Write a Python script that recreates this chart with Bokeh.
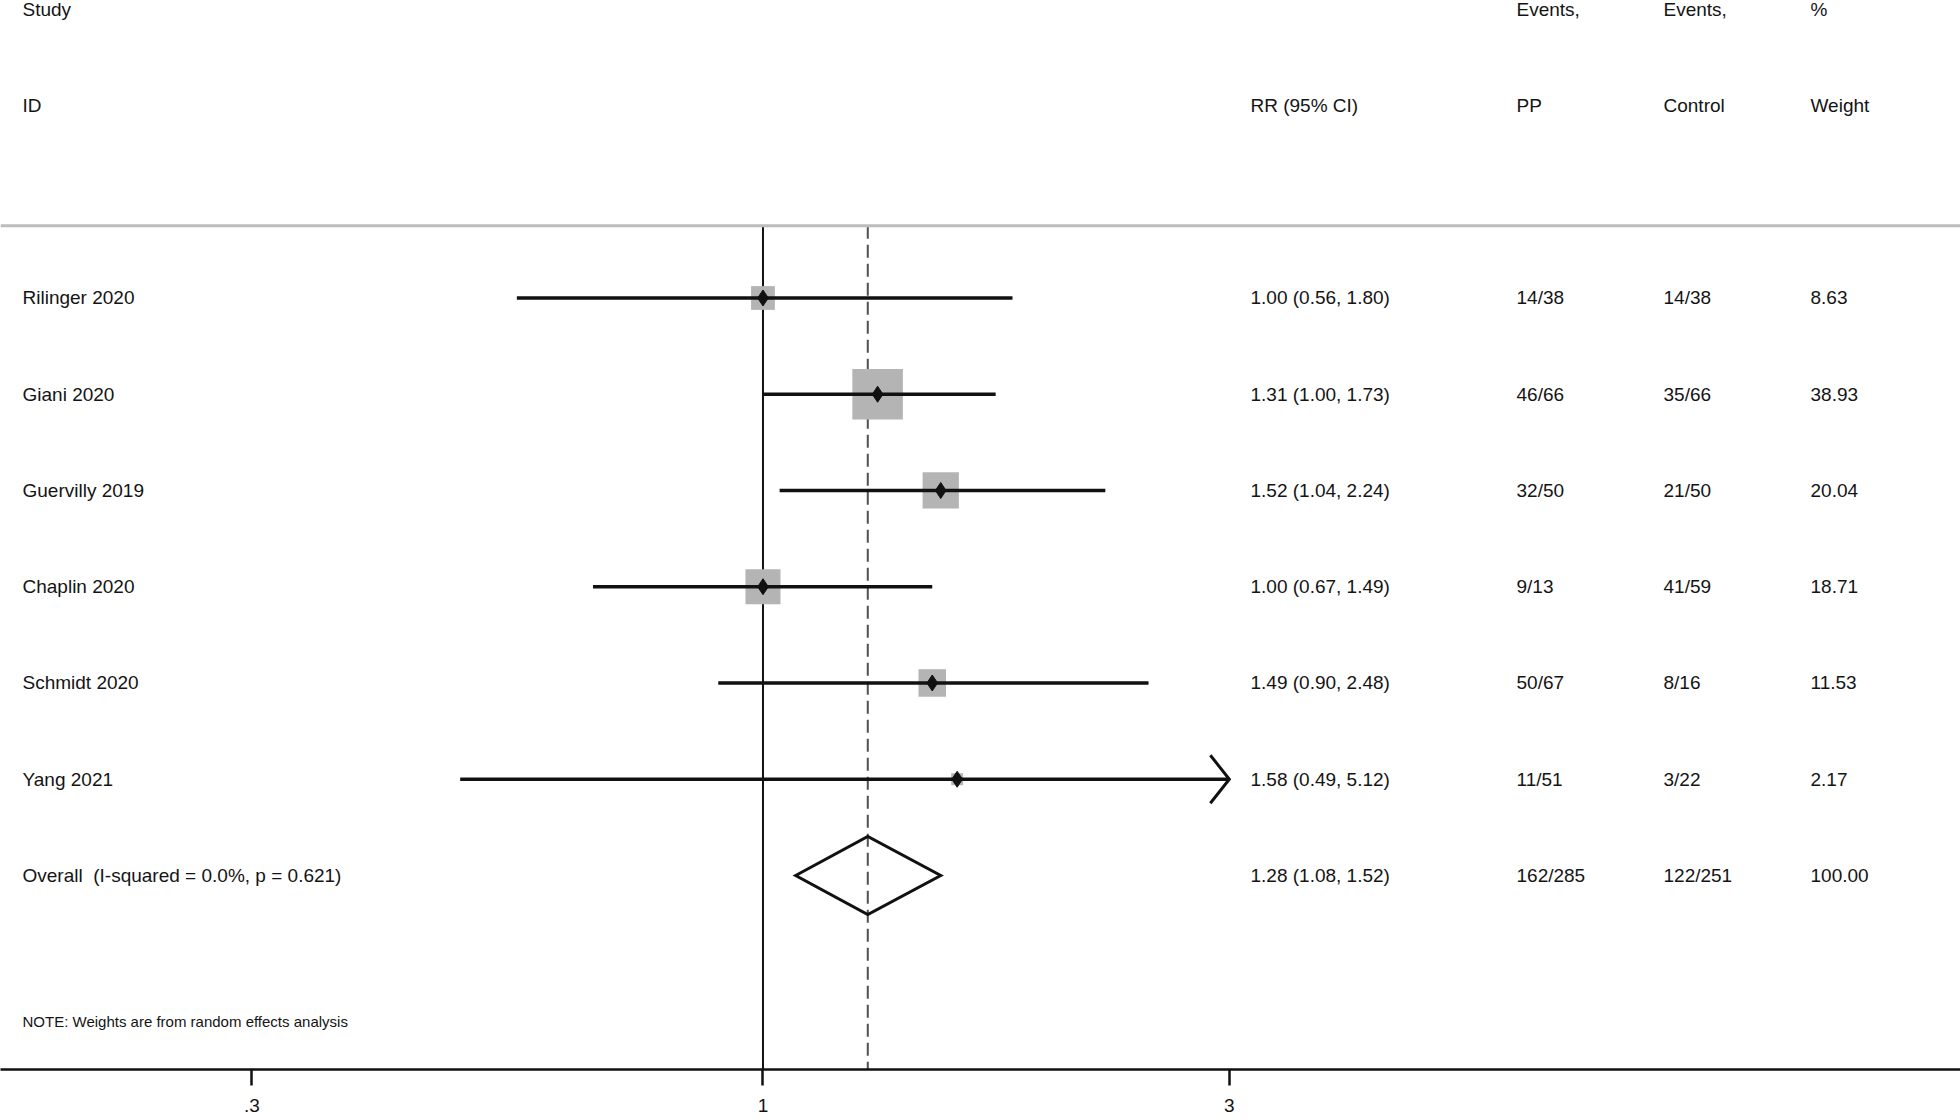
import math
from bokeh.plotting import figure
from bokeh.models import Range1d, LinearScale, FixedTicker, CustomJSTickFormatter, Span, ColumnDataSource
from bokeh.core.properties import value
from bokeh.embed import file_html
from bokeh.resources import INLINE

# ---------------- data ----------------
studies = ["Rilinger 2020", "Giani 2020", "Guervilly 2019", "Chaplin 2020", "Schmidt 2020", "Yang 2021"]
rr = [1.00, 1.31, 1.52, 1.00, 1.49, 1.58]
ci_low = [0.56, 1.00, 1.04, 0.67, 0.90, 0.49]
ci_high = [1.80, 1.73, 2.24, 1.49, 2.48, 5.12]
events_pp = ["14/38", "46/66", "32/50", "9/13", "50/67", "11/51"]
events_ctrl = ["14/38", "35/66", "21/50", "41/59", "8/16", "3/22"]
weights = [8.63, 38.93, 20.04, 18.71, 11.53, 2.17]

overall_label = "Overall\u00a0 (I-squared = 0.0%, p = 0.621)"
overall_rr = 1.28
overall_low = 1.08
overall_high = 1.52
overall_pp = "162/285"
overall_ctrl = "122/251"
overall_weight = 100.00

tick_values = [0.3, 1, 3]
note_text = "NOTE: Weights are from random effects analysis"
header_top = ["Study", "Events,", "Events,", "%"]
header_bottom = ["ID", "RR (95% CI)", "PP", "Control", "Weight"]

# ---------------- layout ----------------
W, H = 1960, 1120
FRAME_LEFT, FRAME_RIGHT = 0, 1960
X_MIN, X_MAX = 0.16592, 16.795
Y_TOP, Y_BOTTOM = -2.091, 9.016
AXIS_BORDER = 51
ROW_PX = (H - AXIS_BORDER) / (Y_BOTTOM - Y_TOP)
PX_PER_LN = (FRAME_RIGHT - FRAME_LEFT) / math.log(X_MAX / X_MIN)
CLIP_HI = max(tick_values)
TOP_RULE = 0.25
HEADER_Y = [-2.0, -1.0]
NOTE_Y = 8.52
COL_X = [22, 1250, 1516, 1663, 1810]
FONT = "Liberation Sans"
TXT = "#141414"
INK = "#111111"

rows = list(range(1, len(studies) + 1))
overall_row = len(studies) + 1

p = figure(width=W, height=H, x_axis_type="log",
           x_range=Range1d(X_MIN, X_MAX), y_range=Range1d(Y_BOTTOM, Y_TOP),
           y_axis_location=None, toolbar_location=None, output_backend="svg",
           min_border=0, min_border_bottom=AXIS_BORDER)
p.extra_x_ranges = {"px": Range1d(FRAME_LEFT, FRAME_RIGHT)}
p.extra_x_scales = {"px": LinearScale()}
p.grid.visible = False
p.outline_line_color = None
p.background_fill_color = "white"
p.border_fill_color = "white"

ax = p.xaxis[0]
ax.ticker = FixedTicker(ticks=tick_values)
ax.formatter = CustomJSTickFormatter(code="return tick < 1 ? String(tick).replace(/^0/, '') : String(tick);")
ax.axis_line_width = 2.5
ax.axis_line_color = INK
ax.major_tick_line_width = 2.5
ax.major_tick_line_color = INK
ax.major_tick_in = 0
ax.major_tick_out = 16
ax.minor_tick_line_color = None
ax.major_label_standoff = 13
ax.major_label_text_font = FONT
ax.major_label_text_font_size = "19px"
ax.major_label_text_color = TXT

# top rule
p.add_layout(Span(location=TOP_RULE, dimension="width", line_color="#bdbdbd", line_width=3))

# reference lines (null effect and overall estimate)
p.segment(x0=[1], x1=[1], y0=[TOP_RULE], y1=[Y_BOTTOM], line_color=INK, line_width=2)
p.segment(x0=[overall_rr], x1=[overall_rr], y0=[TOP_RULE], y1=[Y_BOTTOM],
          line_color="#505050", line_width=2, line_dash="13 6")

# weight boxes
src = ColumnDataSource(dict(
    row=rows, rr=rr, lo=ci_low, hi=[min(h, CLIP_HI) for h in ci_high],
    box=[8.1 * math.sqrt(w) for w in weights]))
p.scatter(x="rr", y="row", size="box", marker="square", source=src,
          fill_color="#b4b4b4", line_color=None)
# CIs
p.segment(x0="lo", x1="hi", y0="row", y1="row", source=src, line_color=INK, line_width=3.5)
# arrows for clipped CIs
for r, h in zip(rows, ci_high):
    if h > CLIP_HI:
        xb = CLIP_HI * math.exp(-19 / PX_PER_LN)
        dy = 24 / ROW_PX
        p.line(x=[xb, CLIP_HI, xb], y=[r - dy, r, r + dy], line_color=INK, line_width=3,
               line_join="miter")
# point estimates
p.scatter(x="rr", y="row", marker="diamond", size=16, source=src, fill_color=INK, line_color=INK)

# overall diamond
dh = 0.405
p.patch(x=[overall_low, overall_rr, overall_high, overall_rr],
        y=[overall_row, overall_row - dh, overall_row, overall_row + dh],
        fill_alpha=0, line_color=INK, line_width=3, line_join="miter")

# texts
tx, ty, tt = [], [], []
for xi, t in zip([COL_X[0], COL_X[2], COL_X[3], COL_X[4]], header_top):
    tx.append(xi); ty.append(HEADER_Y[0]); tt.append(t)
for xi, t in zip(COL_X, header_bottom):
    tx.append(xi); ty.append(HEADER_Y[1]); tt.append(t)
for r, s, e, l, h, a, b, w in zip(rows, studies, rr, ci_low, ci_high, events_pp, events_ctrl, weights):
    vals = [s, f"{e:.2f} ({l:.2f}, {h:.2f})", a, b, f"{w:.2f}"]
    for xi, t in zip(COL_X, vals):
        tx.append(xi); ty.append(r); tt.append(t)
ovals = [overall_label, f"{overall_rr:.2f} ({overall_low:.2f}, {overall_high:.2f})",
         overall_pp, overall_ctrl, f"{overall_weight:.2f}"]
for xi, t in zip(COL_X, ovals):
    tx.append(xi); ty.append(overall_row); tt.append(t)

p.text(x=tx, y=ty, text=tt, x_range_name="px", text_font=value(FONT),
       text_font_size=value("19px"), text_color=TXT, text_align="left", text_baseline="middle")
p.text(x=[COL_X[0]], y=[NOTE_Y], text=[note_text], x_range_name="px", text_font=value(FONT),
       text_font_size=value("15px"), text_color=TXT, text_align="left", text_baseline="middle")

open("out.html", "w").write(file_html(p, INLINE))
